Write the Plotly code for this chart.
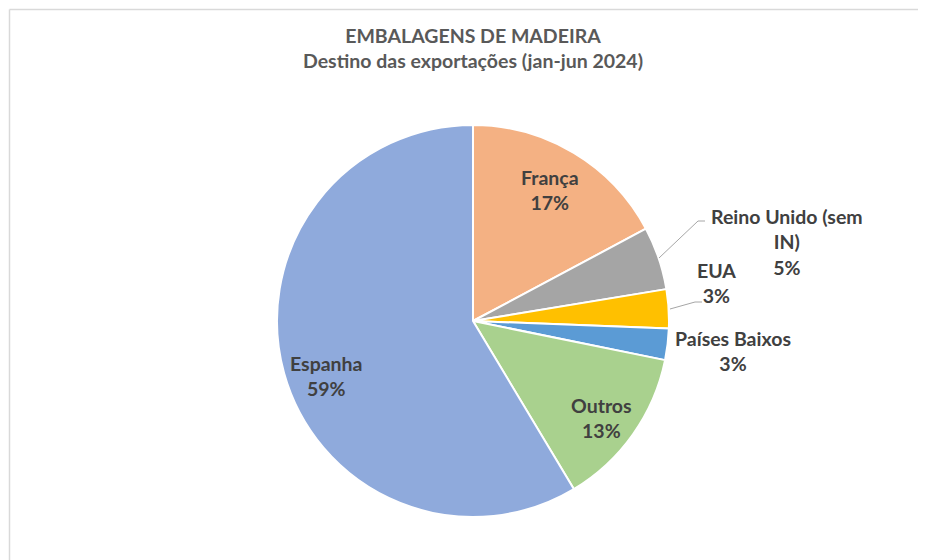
import plotly.graph_objects as go

W, H = 926, 560
OFF = 8  # page body margin offset in the browser

# Data
categories = ["França", "Reino Unido (sem IN)", "EUA", "Países Baixos", "Outros", "Espanha"]
label_lines = ["França", "Reino Unido (sem<br>IN)", "EUA", "Países Baixos", "Outros", "Espanha"]
values = [17.2, 5.2, 3.2, 2.6, 13.2, 58.6]
colors = ["#F4B183", "#A5A5A5", "#FFC000", "#5B9BD5", "#A9D18E", "#8FAADC"]

# Layout positions of labels (pixels in window, top-left origin)
label_pos = [(550, 190), (787, 242), (716, 283), (733, 351), (601, 418), (326, 376)]

cx, cy, r = 473, 321, 196

def px(x):
    return (x - OFF) / W

def py(y):
    return 1 - (y - OFF) / H

FONT = "Lato, Open Sans, sans-serif"
FS = 19.5

fig = go.Figure(go.Pie(
    labels=categories,
    values=values,
    sort=False,
    direction="clockwise",
    rotation=0,
    marker=dict(colors=colors, line=dict(color="white", width=2)),
    textinfo="none",
    hoverinfo="label+percent",
    domain=dict(x=[px(cx - r), px(cx + r)], y=[py(cy + r), py(cy - r)]),
    showlegend=False,
))

total = sum(values)
annotations = []
for lab, v, (x, y) in zip(label_lines, values, label_pos):
    pct = round(v / total * 100)
    annotations.append(dict(
        x=px(x), y=py(y), xref="paper", yref="paper",
        text=f"<b>{lab}<br>{pct}%</b>", showarrow=False,
        xanchor="center", yanchor="middle", align="center",
        font=dict(family=FONT, size=FS, color="#404040"),
    ))

annotations.append(dict(
    x=px(473), y=py(48), xref="paper", yref="paper",
    text="<b>EMBALAGENS DE MADEIRA<br>Destino das exportações (jan-jun 2024)</b>",
    showarrow=False, xanchor="center", yanchor="middle", align="center",
    font=dict(family=FONT, size=FS, color="#595959"),
))

shapes = [
    # chart frame (top and left edges visible)
    dict(type="line", xref="paper", yref="paper", x0=px(9.5), y0=py(9.5), x1=1, y1=py(9.5),
         line=dict(color="#D9D9D9", width=1.5)),
    dict(type="line", xref="paper", yref="paper", x0=px(9.5), y0=py(9.5), x1=px(9.5), y1=0,
         line=dict(color="#D9D9D9", width=1.5)),
    # leader lines
    dict(type="path", xref="paper", yref="paper",
         path=f"M {px(659)},{py(258)} L {px(698)},{py(221)} L {px(705)},{py(221)}",
         line=dict(color="#A6A6A6", width=1)),
    dict(type="path", xref="paper", yref="paper",
         path=f"M {px(670)},{py(309)} L {px(695)},{py(302)} L {px(702)},{py(302)}",
         line=dict(color="#A6A6A6", width=1)),
]

fig.update_layout(
    width=W, height=H,
    margin=dict(l=0, r=0, t=0, b=0),
    paper_bgcolor="white",
    plot_bgcolor="white",
    annotations=annotations,
    shapes=shapes,
)

fig.write_html("out.html")
